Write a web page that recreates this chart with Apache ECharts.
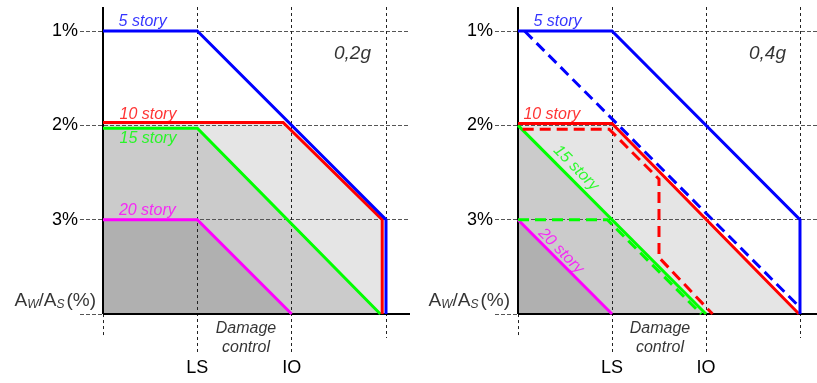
<!DOCTYPE html>
<html>
<head>
<meta charset="utf-8">
<script src="https://cdn.jsdelivr.net/npm/echarts@6/dist/echarts.min.js"></script>
<style>
  html, body { margin: 0; padding: 0; background: #fff; }
  #chart { width: 817px; height: 383px; }
</style>
</head>
<body>
<div id="chart"></div>
<script>
// Performance levels on the horizontal axis and wall-area ratio ticks on the vertical axis
const zoneEdges = [0, 1, 2, 3];
const levelTicks = [1, 2];
const levelLabels = ['LS', 'IO'];
const ratioTicks = [1, 2, 3];
const ratioLabels = ['1%', '2%', '3%'];
const ratioBase = 4;

// 0,2g: [performance level, wall ratio %]
const story5_02 = [[0, 1], [1, 1], [3, 3], [3, 4]];
const story10_02 = [[0, 1.97], [1.91, 1.97], [2.96, 3.0], [2.96, 4]];
const story15_02 = [[0, 2.03], [1, 2.03], [2.94, 4]];
const story20_02 = [[0, 3], [1, 3], [2, 4]];

// 0,4g: solid and dashed variants
const story5_04 = [[0, 1], [1, 1], [3, 3], [3, 4]];
const story5_04b = [[0.07, 1], [2.97, 3.9]];
const story10_04 = [[0, 1.98], [1, 1.98], [2.99, 4]];
const story10_04b = [[0.05, 2.04], [0.97, 2.04], [1.5, 2.57], [1.5, 3.4], [2.07, 4]];
const story15_04 = [[0, 2], [2, 4]];
const story15_04b = [[0, 3], [0.95, 3], [1.95, 4]];
const story20_04 = [[0, 3], [1, 4]];

const storyNames = ['5 story', '10 story', '15 story', '20 story'];
const panelNames = ['0,2g', '0,4g'];
const zoneCaption = 'Damage\ncontrol';

// ---- styling ----
const FONT = 'Liberation Sans, Arial, Helvetica, sans-serif';
const BLUE = '#0000ff', RED = '#ff0000', GREEN = '#00ff00', MAGENTA = '#ff00ff';
const FILL_LIGHT = '#e5e5e5', FILL_MID = '#cbcbcb', FILL_DARK = '#b0b0b0';
const Y_MIN = 0.745, Y_MAX = 4.413, Y_STUB = 4.254;

const panels = [
  { left: 80, width: 330, xMin: -0.2438, xMax: 3.2545 },
  { left: 495, width: 322, xMin: -0.2447, xMax: 3.181 }
];

function frameLines(xmin, xmax) {
  const hGrid = { color: '#555', type: [4, 2], width: 1 };
  const vGrid = { color: '#222', type: [3, 3], width: 1 };
  const axis = { color: '#000', type: 'solid', width: 2 };
  const seg = (a, b, style) => [{ coord: a, lineStyle: style }, { coord: b }];
  const out = [];
  ratioTicks.forEach(v => out.push(seg([xmin, v], [xmax, v], hGrid)));
  out.push(seg([xmin, ratioBase], [0, ratioBase], hGrid));
  levelTicks.forEach(v => out.push(seg([v, Y_MIN], [v, Y_MAX], vGrid)));
  const last = zoneEdges[zoneEdges.length - 1];
  out.push(seg([last, Y_MIN], [last, Y_STUB], vGrid));
  out.push(seg([0, ratioBase], [0, Y_STUB], vGrid));
  out.push(seg([0, Y_MIN], [0, ratioBase], axis));
  out.push(seg([0, ratioBase], [xmax, ratioBase], axis));
  return out;
}

function fill(idx, data, color, z) {
  return {
    type: 'line', xAxisIndex: idx, yAxisIndex: idx, data, z,
    showSymbol: false, silent: true, clip: false,
    lineStyle: { opacity: 0 },
    areaStyle: { color, opacity: 1, origin: ratioBase }
  };
}

function stroke(idx, data, color, dashed) {
  return {
    type: 'line', xAxisIndex: idx, yAxisIndex: idx, data, z: 5,
    showSymbol: false, silent: true, clip: false,
    lineStyle: { color, width: 3, type: dashed ? [11, 6] : 'solid', cap: 'butt', join: 'miter' }
  };
}

function frame(idx) {
  const p = panels[idx];
  return {
    type: 'line', xAxisIndex: idx, yAxisIndex: idx, data: [], z: 4, silent: true,
    markLine: {
      z: 4, silent: true, symbol: ['none', 'none'], animation: false,
      label: { show: false }, emphasis: { disabled: true },
      data: frameLines(p.xMin, p.xMax)
    }
  };
}

const tagStyle = (color, extra) => Object.assign({
  show: true, position: 'inside', color, fontFamily: FONT, fontStyle: 'italic', fontSize: 16
}, extra || {});

function labels(idx, items) {
  return {
    type: 'scatter', xAxisIndex: idx, yAxisIndex: idx, z: 6, silent: true, clip: false,
    symbolSize: 0,
    data: items.map(it => ({ value: it.at, label: it.label }))
  };
}

const ratioRich = {
  a: { fontFamily: FONT, fontSize: 19, color: '#000', lineHeight: 20, verticalAlign: 'bottom' },
  p: { fontFamily: FONT, fontSize: 19, color: '#000', lineHeight: 20, verticalAlign: 'bottom', padding: [0, 0, 0, 2] },
  s: { fontFamily: FONT, fontSize: 12, fontStyle: 'italic', color: '#000', lineHeight: 16, verticalAlign: 'bottom' }
};
const ratioTitle = '{a|A}{s|W}{a|/A}{s|S}{p|(%)}';

const series = [
  // 0,2g panel
  fill(0, story10_02, FILL_LIGHT, 1),
  fill(0, story15_02, FILL_MID, 2),
  fill(0, story20_02, FILL_DARK, 3),
  frame(0),
  stroke(0, story20_02, MAGENTA),
  stroke(0, story15_02, GREEN),
  stroke(0, story10_02, RED),
  stroke(0, story5_02, BLUE),
  labels(0, [
    { at: [0.42, 0.894], label: tagStyle(BLUE, { formatter: storyNames[0] }) },
    { at: [0.477, 1.88], label: tagStyle(RED, { formatter: storyNames[1] }) },
    { at: [0.477, 2.14], label: tagStyle(GREEN, { formatter: storyNames[2] }) },
    { at: [0.47, 2.90], label: tagStyle(MAGENTA, { formatter: storyNames[3] }) },
    { at: [2.645, 1.24], label: tagStyle('#000', { formatter: panelNames[0], fontSize: 19 }) },
    { at: [1.516, 4.254], label: tagStyle('#000', { formatter: zoneCaption, lineHeight: 19 }) },
    { at: [-0.074, 3.857], label: { show: true, position: 'inside', align: 'right', formatter: ratioTitle, rich: ratioRich } }
  ]),
  // 0,4g panel
  fill(1, story10_04, FILL_LIGHT, 1),
  fill(1, story15_04, FILL_MID, 2),
  fill(1, story20_04, FILL_DARK, 3),
  frame(1),
  stroke(1, story20_04, MAGENTA),
  stroke(1, story15_04b, GREEN, true),
  stroke(1, story15_04, GREEN),
  stroke(1, story10_04b, RED, true),
  stroke(1, story10_04, RED),
  stroke(1, story5_04b, BLUE, true),
  stroke(1, story5_04, BLUE),
  labels(1, [
    { at: [0.42, 0.894], label: tagStyle(BLUE, { formatter: storyNames[0] }) },
    { at: [0.36, 1.88], label: tagStyle(RED, { formatter: storyNames[1] }) },
    { at: [0.617, 2.452], label: tagStyle(GREEN, { formatter: storyNames[2], rotate: -45 }) },
    { at: [0.457, 3.332], label: tagStyle(MAGENTA, { formatter: storyNames[3], rotate: -45 }) },
    { at: [2.654, 1.24], label: tagStyle('#000', { formatter: panelNames[1], fontSize: 19 }) },
    { at: [1.51, 4.254], label: tagStyle('#000', { formatter: zoneCaption, lineHeight: 19 }) },
    { at: [-0.085, 3.857], label: { show: true, position: 'inside', align: 'right', formatter: ratioTitle, rich: ratioRich } }
  ])
];

const option = {
  animation: false,
  grid: panels.map(p => ({ left: p.left, width: p.width, top: 7, bottom: 30 })),
  xAxis: panels.map((p, i) => ({
    type: 'value', gridIndex: i, min: p.xMin, max: p.xMax,
    axisLine: { show: false }, axisTick: { show: false }, splitLine: { show: false },
    axisLabel: {
      customValues: levelTicks, margin: 6, color: '#000', fontFamily: FONT, fontSize: 18,
      formatter: v => levelLabels[levelTicks.indexOf(v)] || ''
    }
  })),
  yAxis: panels.map((p, i) => ({
    type: 'value', gridIndex: i, inverse: true, min: Y_MIN, max: Y_MAX,
    axisLine: { show: false }, axisTick: { show: false }, splitLine: { show: false },
    axisLabel: {
      customValues: ratioTicks, margin: 2, color: '#000', fontFamily: FONT, fontSize: 18,
      formatter: v => ratioLabels[ratioTicks.indexOf(v)] || ''
    }
  })),
  series
};

const chart = echarts.init(document.getElementById('chart'), null, { renderer: 'canvas' });
chart.setOption(option);
</script>
</body>
</html>
